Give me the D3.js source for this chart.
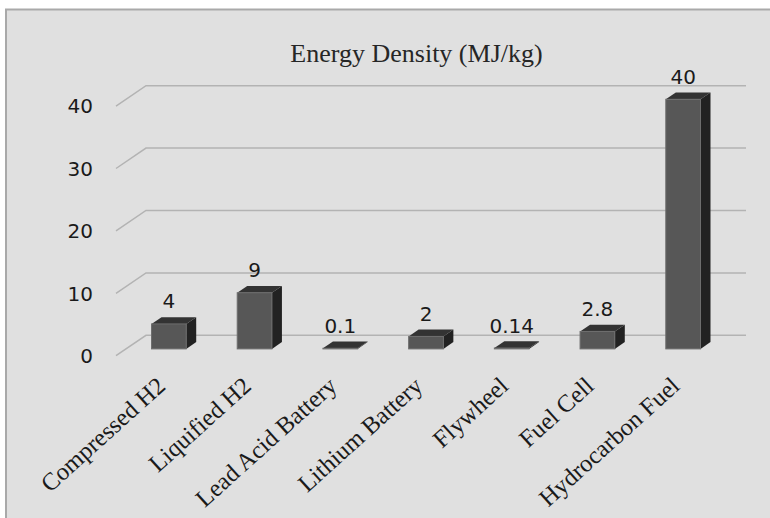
<!DOCTYPE html>
<html>
<head>
<meta charset="utf-8">
<script src="https://cdn.jsdelivr.net/npm/d3@7"></script>
<style>
  body { margin: 0; background: #fff; }
  svg { display: block; }
</style>
</head>
<body>
<svg width="770" height="518"></svg>
<script>
// Energy density 3D-style column chart

const categories = ["Compressed H2", "Liquified H2", "Lead Acid Battery", "Lithium Battery", "Flywheel", "Fuel Cell", "Hydrocarbon Fuel"];
const values = [4, 9, 0.1, 2, 0.14, 2.8, 40];
const valueLabels = ["4", "9", "0.1", "2", "0.14", "2.8", "40"];
const yTicks = [0, 10, 20, 30, 40];
const title = "Energy Density (MJ/kg)";

const width = 770;
const height = 518;

// floor front-left corner and the depth vector of the box
const floorX = 116, floorY = 355.7;
const depth = [30, -20.4];

const x = d3.scaleBand()
  .domain(categories)
  .range([floorX, floorX + 600])
  .paddingInner(0.595)
  .paddingOuter(0.2975);

const h = d3.scaleLinear().domain([0, 40]).range([0, 249.6]);

const svg = d3.select("svg");

// panel
svg.append("rect")
  .attr("x", 6).attr("y", 9.5)
  .attr("width", 800).attr("height", 560)
  .attr("fill", "#e0e0e0")
  .attr("stroke", "#a9a9a9")
  .attr("stroke-width", 2);

// title
svg.append("text")
  .attr("x", 416.5).attr("y", 62)
  .attr("text-anchor", "middle")
  .attr("font-family", "Liberation Serif, Times New Roman, serif")
  .attr("font-size", 26)
  .attr("fill", "#262626")
  .text(title);

// gridlines on the back wall plus the diagonal on the side
const grid = svg.append("g").attr("stroke", "#b3b3b3").attr("stroke-width", 1.5).attr("fill", "none");
grid.selectAll("path")
  .data(yTicks)
  .join("path")
  .attr("d", d => {
    const fy = floorY - h(d);
    return `M${floorX},${fy}L${floorX + depth[0]},${fy + depth[1]}L746,${fy + depth[1]}`;
  });

// y axis labels
svg.append("g")
  .attr("font-family", "DejaVu Sans, sans-serif")
  .attr("font-size", 20)
  .attr("fill", "#1a1a1a")
  .attr("text-anchor", "end")
  .selectAll("text")
  .data(yTicks)
  .join("text")
  .attr("x", 93)
  .attr("y", d => floorY - h(d))
  .attr("dy", "0.36em")
  .text(d => d);

// bars: sit in the middle third of the depth
const off = [depth[0] / 3, depth[1] / 3];
const bars = categories.map((c, i) => {
  const x0 = x(c) + off[0];
  const x1 = x0 + x.bandwidth();
  const yb = floorY + off[1];
  const yt = yb - h(values[i]);
  return {c, v: values[i], label: valueLabels[i], x0, x1, yb, yt};
});

const bar = svg.append("g")
  .selectAll("g")
  .data(bars)
  .join("g");

bar.append("path")
  .attr("fill", "#222")
  .attr("d", d => `M${d.x1},${d.yt}L${d.x1 + off[0]},${d.yt + off[1]}L${d.x1 + off[0]},${d.yb + off[1]}L${d.x1},${d.yb}Z`);

bar.append("path")
  .attr("fill", "#333")
  .attr("d", d => `M${d.x0},${d.yt}L${d.x1},${d.yt}L${d.x1 + off[0]},${d.yt + off[1]}L${d.x0 + off[0]},${d.yt + off[1]}Z`);

bar.append("rect")
  .attr("x", d => d.x0)
  .attr("y", d => d.yt)
  .attr("width", d => d.x1 - d.x0)
  .attr("height", d => d.yb - d.yt)
  .attr("fill", "#575757")
  .attr("stroke", "#6e6e6e")
  .attr("stroke-width", 1);

// value labels
svg.append("g")
  .attr("font-family", "DejaVu Sans, sans-serif")
  .attr("font-size", 20)
  .attr("fill", "#1a1a1a")
  .attr("text-anchor", "middle")
  .selectAll("text")
  .data(bars)
  .join("text")
  .attr("x", d => (d.x0 + d.x1) / 2)
  .attr("y", d => d.yt - 15.5)
  .text(d => d.label);

// category labels, rotated
svg.append("g")
  .attr("font-family", "Liberation Serif, Times New Roman, serif")
  .attr("font-size", 24.5)
  .attr("fill", "#1a1a1a")
  .attr("text-anchor", "end")
  .selectAll("text")
  .data(bars)
  .join("text")
  .attr("transform", d => `translate(${(d.x0 + d.x1) / 2 - 2},${388}) rotate(-42)`)
  .text(d => d.c);
</script>
</body>
</html>
